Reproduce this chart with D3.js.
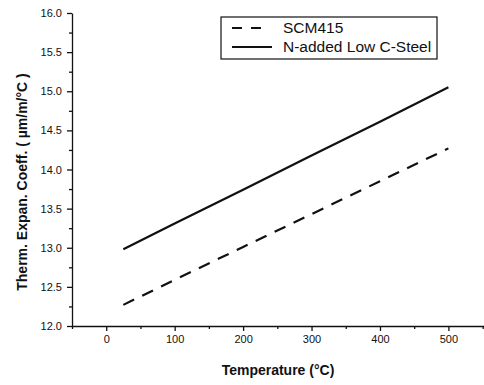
<!DOCTYPE html>
<html>
<head>
<meta charset="utf-8">
<script src="https://cdn.jsdelivr.net/npm/d3@7"></script>
<style>
  body { margin: 0; background: #fff; }
  text { font-family: "Liberation Sans", Arial, sans-serif; }
</style>
</head>
<body>
<figure id="chart" style="margin:0"></figure>
<script>
// values
var temps = [25, 100, 200, 300, 400, 500];
var scm415 = [12.27, 12.59, 13.01, 13.43, 13.85, 14.27];
var nAdded = [12.98, 13.31, 13.74, 14.18, 14.61, 15.05];
var seriesNames = ["SCM415", "N-added Low C-Steel"];
var xTicks = [0, 100, 200, 300, 400, 500];
var yTicks = [12.0, 12.5, 13.0, 13.5, 14.0, 14.5, 15.0, 15.5, 16.0];

var dimensions = {
    width: 484,
    height: 385,
    margin: { top: 13, right: 0, bottom: 59, left: 72 },
};
dimensions.boundedWidth = dimensions.width - dimensions.margin.left - dimensions.margin.right;
dimensions.boundedHeight = dimensions.height - dimensions.margin.top - dimensions.margin.bottom;

var svg = d3.select("figure#chart")
  .append("svg")
  .attr("width", dimensions.width)
  .attr("height", dimensions.height)
  .append("g")
  .attr("transform", `translate(${dimensions.margin.left},${dimensions.margin.top})`);

var xScale = d3.scaleLinear()
  .domain([-50, 552])
  .range([0, dimensions.boundedWidth]);

var yScale = d3.scaleLinear()
  .domain([12, 16])
  .range([dimensions.boundedHeight, 0]);

// minor ticks first so the majors sit on top
svg.append("g")
  .attr("transform", `translate(0,${dimensions.boundedHeight})`)
  .call(d3.axisBottom(xScale).tickValues([-50, 50, 150, 250, 350, 450, 550]).tickSize(3).tickFormat(""))
  .call(g => g.select(".domain").remove());

svg.append("g")
  .call(d3.axisLeft(yScale).tickValues(d3.range(12.25, 16, 0.5)).tickSize(3).tickFormat(""))
  .call(g => g.select(".domain").remove());

var xAxis = svg.append("g")
  .attr("class", "x axis")
  .attr("transform", `translate(0,${dimensions.boundedHeight})`)
  .call(d3.axisBottom(xScale).tickValues(xTicks).tickSize(5).tickSizeOuter(0).tickPadding(4));

var yAxis = svg.append("g")
  .attr("class", "y axis")
  .call(d3.axisLeft(yScale).tickValues(yTicks).tickFormat(d3.format(".1f")).tickSize(5).tickSizeOuter(0).tickPadding(5));

svg.selectAll(".axis text")
  .attr("font-size", 11)
  .attr("font-family", "Liberation Sans, Arial, sans-serif")
  .attr("fill", "#111");
svg.selectAll(".axis path, .axis line, .tick line").attr("stroke", "#111").attr("stroke-width", 1.3);

var line = d3.line()
  .x((d, i) => xScale(temps[i]))
  .y(d => yScale(d));

svg.append("path")
  .datum(scm415)
  .attr("d", line)
  .attr("fill", "none")
  .attr("stroke", "#111")
  .attr("stroke-width", 2.2)
  .attr("stroke-dasharray", "12,9");

svg.append("path")
  .datum(nAdded)
  .attr("d", line)
  .attr("fill", "none")
  .attr("stroke", "#111")
  .attr("stroke-width", 2.2);

// legend
var legend = d3.select("svg").append("g").attr("transform", "translate(221,17)");
legend.append("rect")
  .attr("width", 216).attr("height", 42)
  .attr("fill", "#fff").attr("stroke", "#111").attr("stroke-width", 1.2);
[["10,9", 11, 42], [null, 30, 51]].forEach(function (s, i) {
  legend.append("line")
    .attr("x1", 11).attr("x2", s[2])
    .attr("y1", s[1]).attr("y2", s[1])
    .attr("stroke", "#111").attr("stroke-width", 2.2)
    .attr("stroke-dasharray", s[0]);
  legend.append("text")
    .attr("x", 62).attr("y", s[1] + 5)
    .attr("font-size", 15.5)
    .attr("fill", "#111")
    .text(seriesNames[i]);
});

// axis titles
d3.select("svg").append("text")
  .attr("x", 278).attr("y", 375)
  .attr("text-anchor", "middle")
  .attr("font-size", 14).attr("font-weight", "bold")
  .attr("fill", "#111")
  .text("Temperature (°C)");

d3.select("svg").append("text")
  .attr("transform", "translate(27,182) rotate(-90)")
  .attr("text-anchor", "middle")
  .attr("font-size", 14).attr("font-weight", "bold")
  .attr("fill", "#111")
  .text("Therm. Expan. Coeff. ( µm/m/°C )");
</script>
</body>
</html>
